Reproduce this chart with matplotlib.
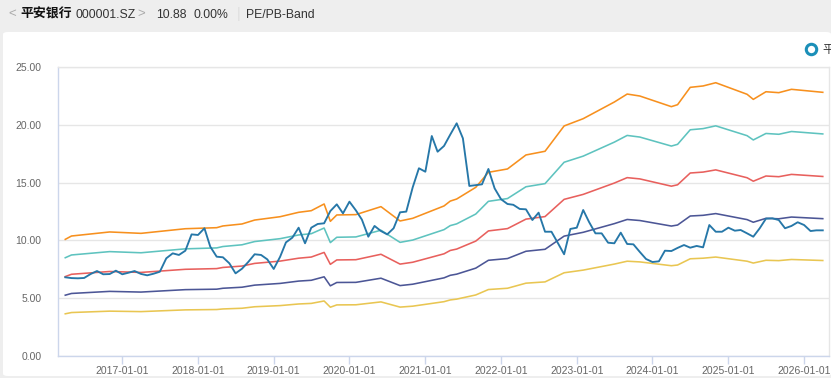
import matplotlib
matplotlib.use('Agg')
import matplotlib.pyplot as plt
import pandas as pd
from matplotlib.patches import FancyBboxPatch

# ---------------- data ----------------
start_month = '2016-04-01'
n_months = 121

price = [6.81, 6.74, 6.72, 6.75, 7.09, 7.35, 7.07, 7.09, 7.38, 7.07,
         7.21, 7.35, 7.10, 6.98, 7.12, 7.29, 8.45, 8.88, 8.74, 9.11,
         10.52, 10.47, 11.05, 9.46, 8.59, 8.54, 8.02, 7.15, 7.55, 8.15,
         8.80, 8.74, 8.36, 7.53, 8.59, 9.83, 10.24, 11.10, 9.75, 11.10,
         11.42, 11.48, 12.54, 13.12, 12.34, 13.35, 12.60, 11.80, 10.32, 11.25,
         10.81, 10.52, 11.05, 12.43, 12.49, 14.59, 16.24, 15.94, 19.03, 17.67,
         18.17, 19.15, 20.13, 18.83, 14.71, 14.78, 14.85, 16.18, 14.50, 13.56,
         13.15, 13.08, 12.72, 12.69, 11.76, 12.40, 10.75, 10.75, 9.80, 8.80,
         10.99, 11.10, 12.63, 11.60, 10.61, 10.61, 9.80, 9.75, 10.67, 9.69,
         9.66, 9.00, 8.39, 8.13, 8.19, 9.11, 9.08, 9.35, 9.60, 9.37,
         9.52, 9.40, 11.33, 10.75, 10.75, 11.10, 10.84, 10.90, 10.61, 10.32,
         11.05, 11.88, 11.91, 11.76, 11.05, 11.25, 11.57, 11.33, 10.81, 10.87,
         10.87]

band_idx = [0, 1, 7, 12, 19, 24, 25, 28, 30, 34, 37, 39, 41, 42, 43, 46, 50, 53, 55,
            60, 61, 62, 65, 67, 70, 73, 76, 79, 82, 87, 89, 91, 96, 97, 99, 101, 103,
            108, 109, 111, 113, 115, 120]

band_orange = [10.09, 10.38, 10.73, 10.61, 11.01, 11.10, 11.25, 11.42, 11.76, 12.05, 12.43,
               12.57, 13.15, 11.65, 12.20, 12.23, 12.92, 11.68, 11.91, 12.98, 13.40, 13.58,
               14.59, 15.89, 16.18, 17.39, 17.71, 19.90, 20.53, 21.97, 22.66, 22.49, 21.57,
               21.74, 23.24, 23.36, 23.64, 22.64, 22.20, 22.86, 22.78, 23.07, 22.81]
band_teal = [8.50, 8.74, 9.03, 8.93, 9.27, 9.35, 9.47, 9.62, 9.90, 10.15, 10.47,
             10.58, 11.07, 9.81, 10.27, 10.30, 10.88, 9.83, 10.03, 10.93, 11.28, 11.43,
             12.28, 13.38, 13.62, 14.64, 14.91, 16.76, 17.29, 18.50, 19.08, 18.94, 18.16,
             18.31, 19.57, 19.67, 19.91, 19.06, 18.69, 19.25, 19.18, 19.42, 19.21]
band_red = [6.87, 7.07, 7.31, 7.23, 7.50, 7.56, 7.66, 7.78, 8.01, 8.21, 8.46,
            8.56, 8.96, 7.93, 8.31, 8.33, 8.80, 7.95, 8.11, 8.84, 9.13, 9.25,
            9.94, 10.82, 11.02, 11.84, 12.06, 13.55, 13.98, 14.96, 15.43, 15.32, 14.69,
            14.81, 15.83, 15.91, 16.10, 15.42, 15.12, 15.57, 15.51, 15.71, 15.53]
band_navy = [5.26, 5.41, 5.59, 5.53, 5.74, 5.78, 5.86, 5.95, 6.13, 6.28, 6.48,
             6.55, 6.85, 6.07, 6.36, 6.37, 6.73, 6.09, 6.21, 6.76, 6.98, 7.08,
             7.60, 8.28, 8.43, 9.06, 9.23, 10.37, 10.70, 11.45, 11.81, 11.72, 11.24,
             11.33, 12.11, 12.17, 12.32, 11.80, 11.57, 11.91, 11.87, 12.02, 11.88]
band_yellow = [3.65, 3.76, 3.88, 3.84, 3.99, 4.02, 4.07, 4.13, 4.26, 4.36, 4.50,
               4.55, 4.76, 4.22, 4.42, 4.43, 4.68, 4.23, 4.31, 4.70, 4.85, 4.92,
               5.28, 5.75, 5.86, 6.30, 6.41, 7.20, 7.43, 7.95, 8.20, 8.14, 7.81,
               7.87, 8.41, 8.46, 8.56, 8.20, 8.04, 8.28, 8.25, 8.35, 8.26]

y_ticks = [0, 5, 10, 15, 20, 25]
x_tick_years = ['2017-01-01', '2018-01-01', '2019-01-01', '2020-01-01', '2021-01-01',
                '2022-01-01', '2023-01-01', '2024-01-01', '2025-01-01', '2026-01-01']

header_name = '平安银行'
header_code = '000001.SZ'
header_price = '10.88'
header_chg = '0.00%'
header_tab = 'PE/PB-Band'
legend_label = '平安银行'

# ---------------- figure ----------------
W, H = 831, 378
fig = plt.figure(figsize=(W / 100, H / 100), dpi=100, facecolor='#eeeeee')

def fx(px):
    return px / W

def fy(py):
    return 1 - py / H

card = FancyBboxPatch((fx(3), fy(376)), fx(W - 3), (376 - 32) / H,
                      boxstyle='round,pad=0,rounding_size=0.006',
                      transform=fig.transFigure, facecolor='white', edgecolor='none', zorder=-10)
fig.patches.append(card)

latin = ['Liberation Sans', 'Noto Sans CJK SC', 'DejaVu Sans']
cjk = ['Noto Sans CJK SC', 'DejaVu Sans']

fig.text(fx(8), fy(14), '<', fontsize=9.5, color='#aaaaaa', va='center', ha='left', family=latin)
fig.text(fx(20), fy(14), header_name, fontsize=9.3, fontweight='bold', color='#111111',
         va='center', ha='left', family=cjk)
fig.text(fx(76), fy(14.5), header_code, fontsize=8.8, color='#333333', va='center', ha='left', family=latin)
fig.text(fx(137), fy(14), '>', fontsize=9.5, color='#aaaaaa', va='center', ha='left', family=latin)
fig.text(fx(156), fy(14.5), header_price, fontsize=8.8, color='#333333', va='center', ha='left', family=latin)
fig.text(fx(194), fy(14.5), header_chg, fontsize=8.8, color='#333333', va='center', ha='left', family=latin)
fig.text(fx(237), fy(14), '|', fontsize=10, color='#dddddd', va='center', ha='left', family=latin)
fig.text(fx(246), fy(14.5), header_tab, fontsize=8.8, color='#333333', va='center', ha='left', family=latin)

# ---------------- axes ----------------
ax = fig.add_axes([fx(58), fy(356), fx(829 - 58), (356 - 67) / H], zorder=1)
ax.set_facecolor('white')

dates = pd.date_range(start_month, periods=n_months, freq='MS')
band_dates = dates[band_idx]

c_orange = '#f7901e'
c_teal = '#5ec3bf'
c_red = '#e8605d'
c_navy = '#4c5696'
c_yellow = '#e9c652'
c_blue = '#2677a8'

lw = 1.15
ax.plot(band_dates, band_yellow, color=c_yellow, lw=lw, zorder=3)
ax.plot(band_dates, band_navy, color=c_navy, lw=lw, zorder=3)
ax.plot(band_dates, band_red, color=c_red, lw=lw, zorder=3)
ax.plot(band_dates, band_teal, color=c_teal, lw=lw, zorder=3)
ax.plot(band_dates, band_orange, color=c_orange, lw=lw, zorder=3)
ax.plot(dates, price, color=c_blue, lw=1.35, zorder=4)

ax.set_ylim(0, 25)
ax.set_xlim(pd.Timestamp('2016-02-26'), pd.Timestamp('2026-05-01'))
ax.set_yticks(y_ticks)
ax.set_yticklabels([f'{v:.2f}' for v in y_ticks])
ax.set_xticks(pd.to_datetime(x_tick_years))
ax.set_xticklabels(x_tick_years)

ax.grid(axis='y', color='#e6e6e6', lw=1.0, zorder=1)
ax.grid(axis='x', visible=False)
ax.set_axisbelow(True)

for s in ['left', 'bottom']:
    ax.spines[s].set_color('#ccd6eb')
    ax.spines[s].set_linewidth(1.0)
for s in ['top', 'right']:
    ax.spines[s].set_color('#e6e6e6')
    ax.spines[s].set_linewidth(1.0)

ax.tick_params(axis='y', length=0, pad=12, labelsize=7.5, labelcolor='#666666')
ax.tick_params(axis='x', length=6, width=1, color='#ccd6eb', pad=1.5,
               labelsize=7.5, labelcolor='#666666')
for lab in ax.get_xticklabels() + ax.get_yticklabels():
    lab.set_family(latin)

# legend (clipped at right edge, as in the reference)
fig.lines.append(plt.Line2D([fx(811)], [fy(49)], transform=fig.transFigure, marker='o',
                            markersize=7.5, markerfacecolor='white', markeredgecolor='#1b8fb8',
                            markeredgewidth=2.2, linestyle='none'))
fig.text(fx(822), fy(49), legend_label, fontsize=8.5, color='#333333', va='center', ha='left',
         family=cjk)

fig.savefig('out.png', dpi=100, facecolor=fig.get_facecolor())
